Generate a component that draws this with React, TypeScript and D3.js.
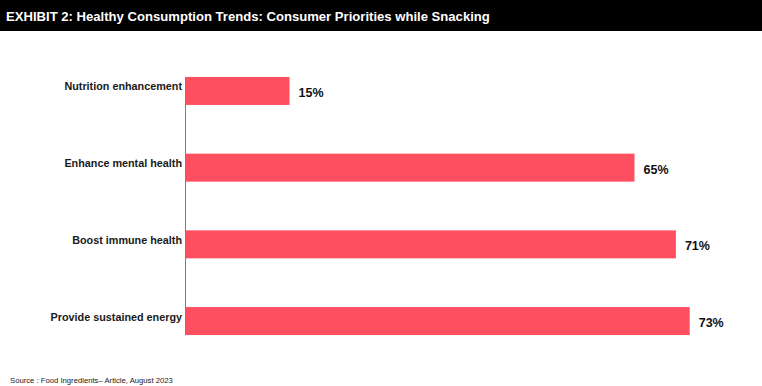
import React, { useEffect, useRef } from "react";
import * as d3 from "d3";

const categories = [
  "Nutrition enhancement",
  "Enhance mental health",
  "Boost immune health",
  "Provide sustained energy",
];
const values = [15, 65, 71, 73];

const title =
  "EXHIBIT 2: Healthy Consumption Trends: Consumer Priorities while Snacking";
const source = "Source : Food Ingredients\u2013 Article, August 2023";

const App = () => {
  const chartRef = useRef<SVGSVGElement>(null);

  useEffect(() => {
    drawChart();
  }, []);

  const drawChart = () => {
    const width = 762;
    const height = 386;
    const font = "Arial, 'Liberation Sans', sans-serif";

    const svg = d3.select(chartRef.current);
    svg.selectAll("*").remove();
    svg.attr("width", width).attr("height", height);

    // title band
    svg
      .append("rect")
      .attr("x", 0)
      .attr("y", 0)
      .attr("width", width)
      .attr("height", 31)
      .attr("fill", "#000");

    svg
      .append("text")
      .attr("x", 6)
      .attr("y", 20.5)
      .attr("fill", "#fff")
      .attr("font-family", font)
      .attr("font-weight", "bold")
      .attr("font-size", 13.1)
      .text(title);

    const x0 = 186;
    const x = d3.scaleLinear().domain([0, 100]).range([x0, x0 + 690]);

    const y = d3
      .scaleBand()
      .domain(categories)
      .range([52.6, 359.4])
      .paddingInner(0.635)
      .paddingOuter(0.3175);

    const g = svg.append("g");

    g.selectAll("rect.bar")
      .data(values)
      .join("rect")
      .attr("class", "bar")
      .attr("x", x(0))
      .attr("y", (d, i) => y(categories[i])!)
      .attr("width", (d) => x(d) - x(0))
      .attr("height", y.bandwidth())
      .attr("fill", "#FE4F61");

    // axis line
    g.append("line")
      .attr("x1", x0 - 0.5)
      .attr("x2", x0 - 0.5)
      .attr("y1", y(categories[0])!)
      .attr("y2", y(categories[categories.length - 1])! + y.bandwidth())
      .attr("stroke", "#7f7f7f")
      .attr("stroke-width", 1);

    // category labels
    g.selectAll("text.cat")
      .data(categories)
      .join("text")
      .attr("class", "cat")
      .attr("x", x0 - 4)
      .attr("y", (d) => y(d)! + y.bandwidth() / 2 - 0.5)
      .attr("text-anchor", "end")
      .attr("font-family", font)
      .attr("font-weight", "bold")
      .attr("font-size", 10.8)
      .attr("fill", "#1a1a1a")
      .text((d) => d);

    // value labels
    g.selectAll("text.val")
      .data(values)
      .join("text")
      .attr("class", "val")
      .attr("x", (d) => x(d) + 9)
      .attr("y", (d, i) => y(categories[i])! + y.bandwidth() / 2 + 6)
      .attr("font-family", font)
      .attr("font-weight", "bold")
      .attr("font-size", 12.5)
      .attr("fill", "#111")
      .text((d) => `${d}%`);

    svg
      .append("text")
      .attr("x", 10)
      .attr("y", 383)
      .attr("font-family", font)
      .attr("font-size", 7.7)
      .attr("fill", "#222")
      .text(source);
  };

  return (
    <svg
      ref={chartRef}
      style={{ position: "absolute", left: 0, top: 0, display: "block" }}
    ></svg>
  );
};

export default App;
